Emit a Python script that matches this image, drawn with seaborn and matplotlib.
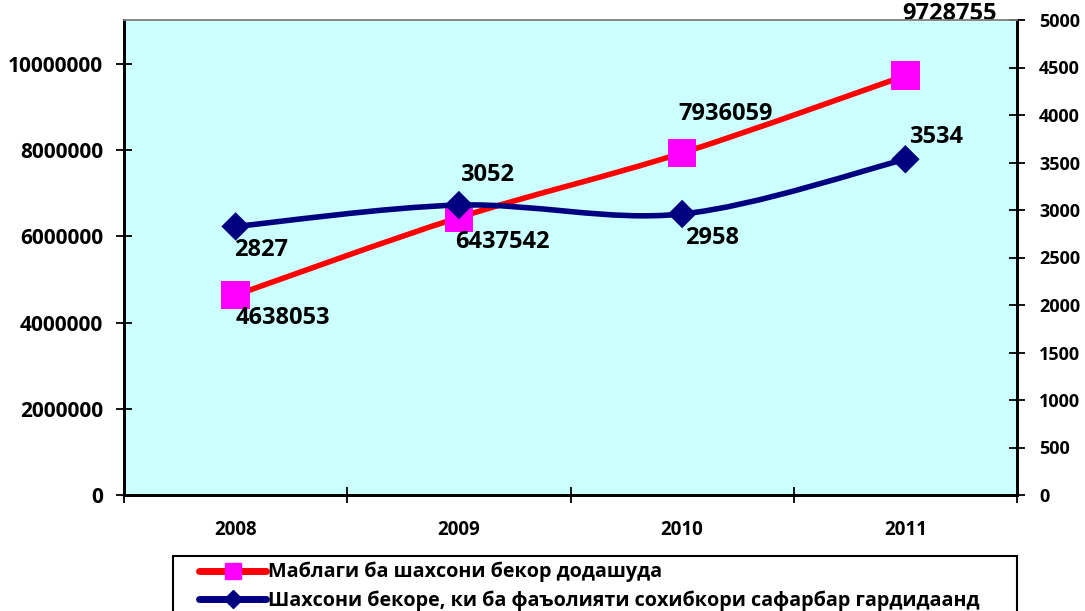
import numpy as np
import matplotlib
matplotlib.use("Agg")
import matplotlib.pyplot as plt
from matplotlib.path import Path
from matplotlib.patches import PathPatch, Rectangle
from matplotlib.lines import Line2D
import seaborn as sns
import pandas as pd

years = ["2008", "2009", "2010", "2011"]
funds = [4638053, 6437542, 7936059, 9728755]
people = [2827, 3052, 2958, 3534]
series_names = ["Маблаги ба шахсони бекор додашуда",
                "Шахсони бекоре, ки ба фаъолияти сохибкори сафарбар гардидаанд"]
left_ticks = [0, 2000000, 4000000, 6000000, 8000000, 10000000]
right_ticks = [0, 500, 1000, 1500, 2000, 2500, 3000, 3500, 4000, 4500, 5000]

sns.set_theme(style="white")
plt.rcParams['font.family'] = ['Open Sans', 'DejaVu Sans']
plt.rcParams['font.weight'] = 'bold'
plt.rcParams['text.color'] = 'black'
plt.rcParams['xtick.color'] = 'black'
plt.rcParams['ytick.color'] = 'black'

W, H = 1085, 611
fig = plt.figure(figsize=(W / 100, H / 100), dpi=100)
fig.patch.set_facecolor("white")
L, R, T, B = 124, 1017, 20, 495
ax = fig.add_axes([L / W, 1 - B / H, (R - L) / W, (B - T) / H])
ax2 = ax.twinx()

ax.set_facecolor("#CCFFFF")
ax.set_xlim(-0.5, 3.5)
ax.set_ylim(0, 11020000)
ax2.set_ylim(0, 5000)

RED, MAG, NAVY = "#FF0000", "#FF00FF", "#000080"


def smooth_path(xs, ys):
    pts = np.column_stack([xs, ys]).astype(float)
    n = len(pts)
    verts = [pts[0]]
    codes = [Path.MOVETO]
    for i in range(n - 1):
        p0 = pts[i - 1] if i > 0 else pts[i]
        p1 = pts[i]
        p2 = pts[i + 1]
        p3 = pts[i + 2] if i + 2 < n else pts[i + 1]
        c1 = p1 + (p2 - p0) / 6.0
        c2 = p2 - (p3 - p1) / 6.0
        verts += [c1, c2, p2]
        codes += [Path.CURVE4] * 3
    return Path(verts, codes)


xpos = np.arange(len(years))
df = pd.DataFrame({"x": xpos, "funds": funds, "people": people})

ax.add_patch(PathPatch(smooth_path(xpos, funds), facecolor="none", edgecolor=RED,
                       lw=4, capstyle="round", zorder=3))
sns.scatterplot(data=df, x="x", y="funds", ax=ax, marker="s", s=420, color=MAG,
                edgecolor="none", zorder=4, legend=False)

ax2.add_patch(PathPatch(smooth_path(xpos, people), facecolor="none", edgecolor=NAVY,
                        lw=4, capstyle="round", zorder=3))
sns.scatterplot(data=df, x="x", y="people", ax=ax2, marker="D", s=210, color=NAVY,
                edgecolor="none", zorder=4, legend=False)

# data labels
f_off = [(0, -23), (-4, -24), (-4, 39), (-3, 62)]
p_off = [(-2, -24), (1, 30), (3, -24), (4, 22)]
for i in range(len(years)):
    ax.annotate(str(funds[i]), (xpos[i], funds[i]), xytext=f_off[i],
                textcoords="offset pixels", ha="left", va="center",
                fontsize=17, fontweight="bold", color="black",
                annotation_clip=False, zorder=6)
    ax2.annotate(str(people[i]), (xpos[i], people[i]), xytext=p_off[i],
                 textcoords="offset pixels", ha="left", va="center",
                 fontsize=17, fontweight="bold", color="black",
                 annotation_clip=False, zorder=6)

ax.set_xticks([-0.5, 0.5, 1.5, 2.5, 3.5])
ax.set_xticklabels([])
ax.set_xticks(xpos, minor=True)
ax.set_xticklabels(years, minor=True)
ax.tick_params(axis="x", which="major", direction="inout", length=12, width=1.3,
               color="black", bottom=True)
ax.tick_params(axis="x", which="minor", length=0, pad=18, labelsize=13.5,
               labelcolor="black")

ax.set_yticks(left_ticks)
ax.set_yticklabels([str(v) for v in left_ticks])
ax.tick_params(axis="y", direction="inout", length=12, width=1.3, color="black",
               left=True, labelsize=15, pad=9, labelcolor="black")
ax2.set_yticks(right_ticks)
ax2.set_yticklabels([str(v) for v in right_ticks])
ax2.tick_params(axis="y", direction="inout", length=12, width=1.3, color="black",
                right=True, labelsize=13, pad=10, labelcolor="black")

for a in (ax, ax2):
    a.set_xlabel("")
    a.set_ylabel("")
    for s in ("left", "right", "bottom"):
        a.spines[s].set_color("black")
        a.spines[s].set_linewidth(2)
    a.spines["top"].set_color("#888888")
    a.spines["top"].set_linewidth(1.2)
    a.grid(False)

for lab in ax.get_xticklabels(minor=True) + ax.get_yticklabels() + ax2.get_yticklabels():
    lab.set_fontweight("bold")

# legend frame (extends past the bottom edge as in the reference)
fig.patches.append(Rectangle((173 / W, -0.05), (1017 - 173) / W, (0.05 + 1 - 556 / H),
                             transform=fig.transFigure, facecolor="white",
                             edgecolor="black", lw=1.5, zorder=1))

handles = [
    Line2D([], [], color=RED, lw=5, marker="s", markersize=12, markerfacecolor=MAG,
           markeredgecolor=MAG, solid_capstyle="round"),
    Line2D([], [], color=NAVY, lw=5, marker="D", markersize=9, markerfacecolor=NAVY,
           markeredgecolor=NAVY, solid_capstyle="round"),
]
leg = fig.legend(handles, series_names, loc="upper left",
                 bbox_to_anchor=(199 / W, 1 - 562 / H),
                 frameon=False, borderaxespad=0, borderpad=0,
                 handlelength=3.4, handletextpad=0.1, labelspacing=0.4,
                 prop={"size": 14.2, "weight": "bold"})
leg.set_zorder(5)

fig.savefig("out.png", dpi=100, facecolor="white")
